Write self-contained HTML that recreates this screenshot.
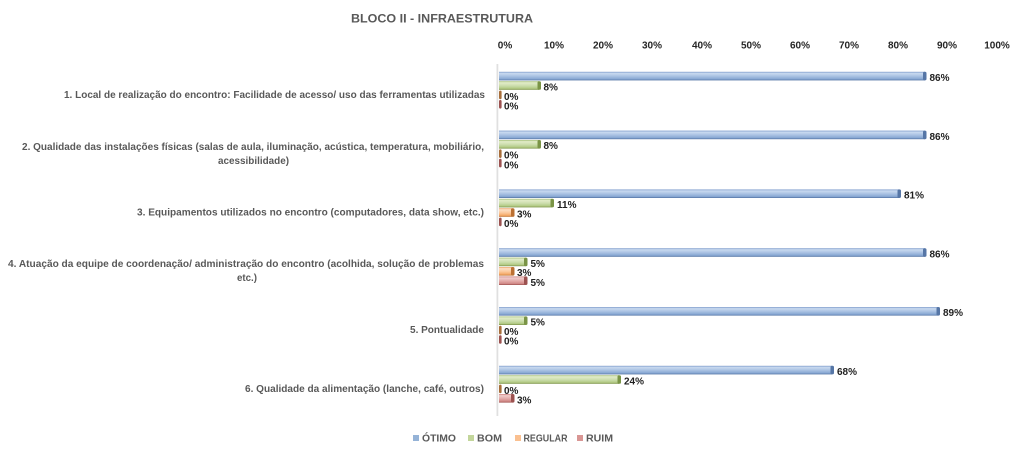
<!DOCTYPE html>
<html>
<head>
<meta charset="utf-8">
<style>
  html, body { margin: 0; padding: 0; background: #ffffff; }
  svg { display: block; }
  text { font-family: "Liberation Sans", Arial, sans-serif; font-weight: bold; }
</style>
</head>
<body>
<svg width="1024" height="455" viewBox="0 0 1024 455" xmlns="http://www.w3.org/2000/svg">
  <defs>
    <linearGradient id="gB" x1="0" y1="0" x2="0" y2="1">
      <stop offset="0" stop-color="#7f9ccb"/>
      <stop offset="0.18" stop-color="#c9daf0"/>
      <stop offset="0.55" stop-color="#a6bfe1"/>
      <stop offset="0.85" stop-color="#86a6d2"/>
      <stop offset="1" stop-color="#4f6f9f"/>
    </linearGradient>
    <linearGradient id="gG" x1="0" y1="0" x2="0" y2="1">
      <stop offset="0" stop-color="#a6bf7a"/>
      <stop offset="0.18" stop-color="#e2ecc9"/>
      <stop offset="0.55" stop-color="#cadcaa"/>
      <stop offset="0.85" stop-color="#b1c983"/>
      <stop offset="1" stop-color="#788f45"/>
    </linearGradient>
    <linearGradient id="gO" x1="0" y1="0" x2="0" y2="1">
      <stop offset="0" stop-color="#eea46a"/>
      <stop offset="0.18" stop-color="#fde0c6"/>
      <stop offset="0.55" stop-color="#fbc79a"/>
      <stop offset="0.85" stop-color="#f4a866"/>
      <stop offset="1" stop-color="#b86c2e"/>
    </linearGradient>
    <linearGradient id="gR" x1="0" y1="0" x2="0" y2="1">
      <stop offset="0" stop-color="#cc807e"/>
      <stop offset="0.18" stop-color="#f0cccb"/>
      <stop offset="0.55" stop-color="#e2a9a7"/>
      <stop offset="0.85" stop-color="#d08886"/>
      <stop offset="1" stop-color="#9a4e4b"/>
    </linearGradient>
  </defs>

  <!-- Title -->
  <text x="351" y="22.5" font-size="12" fill="#595959" textLength="182" lengthAdjust="spacingAndGlyphs">BLOCO II - INFRAESTRUTURA</text>

  <!-- Top axis tick labels -->
  <g font-size="10" fill="#262626" text-anchor="middle">
    <text x="505" y="48.5">0%</text>
    <text x="554" y="48.5">10%</text>
    <text x="603" y="48.5">20%</text>
    <text x="652" y="48.5">30%</text>
    <text x="702" y="48.5">40%</text>
    <text x="751" y="48.5">50%</text>
    <text x="800" y="48.5">60%</text>
    <text x="849" y="48.5">70%</text>
    <text x="898" y="48.5">80%</text>
    <text x="947" y="48.5">90%</text>
    <text x="997" y="48.5">100%</text>
  </g>

  <!-- Vertical category axis line -->
  <rect x="496.5" y="64" width="1.8" height="352" fill="#e0e0e0"/>

  <!-- Category labels -->
  <g font-size="10" fill="#595959">
    <text x="485" y="97.8" text-anchor="end" textLength="421" lengthAdjust="spacingAndGlyphs">1. Local de realização do encontro: Facilidade de acesso/ uso das ferramentas utilizadas</text>
    <text x="484" y="149.8" text-anchor="end" textLength="462" lengthAdjust="spacingAndGlyphs">2. Qualidade das instalações físicas (salas de aula, iluminação, acústica, temperatura, mobiliário,</text>
    <text x="253.5" y="163.8" text-anchor="middle" textLength="71" lengthAdjust="spacingAndGlyphs">acessibilidade)</text>
    <text x="484" y="215.5" text-anchor="end" textLength="347" lengthAdjust="spacingAndGlyphs">3. Equipamentos utilizados no encontro (computadores, data show, etc.)</text>
    <text x="484" y="266.8" text-anchor="end" textLength="476" lengthAdjust="spacingAndGlyphs">4. Atuação da equipe de coordenação/ administração do encontro (acolhida, solução de problemas</text>
    <text x="247" y="280.8" text-anchor="middle" textLength="20" lengthAdjust="spacingAndGlyphs">etc.)</text>
    <text x="484" y="332.8" text-anchor="end" textLength="74" lengthAdjust="spacingAndGlyphs">5. Pontualidade</text>
    <text x="484" y="391.8" text-anchor="end" textLength="239" lengthAdjust="spacingAndGlyphs">6. Qualidade da alimentação (lanche, café, outros)</text>
  </g>

  <!-- Bars -->
  <g id="bars">
    <!-- Category 1 -->
    <rect x="499" y="71.8" width="426" height="8.6" fill="url(#gB)"/>
    <rect x="923" y="71.8" width="3.5" height="8.6" rx="1.6" fill="#5676a6"/>
    <rect x="499" y="81.2" width="40" height="8.6" fill="url(#gG)"/>
    <rect x="537.5" y="81.2" width="3.5" height="8.6" rx="1.6" fill="#7a9446"/>
    <rect x="499" y="90.6" width="2.6" height="8.6" rx="1.2" fill="#a86e3a"/>
    <rect x="499" y="100" width="2.6" height="8.6" rx="1.2" fill="#9c5250"/>

    <!-- Category 2 -->
    <rect x="499" y="130.6" width="426" height="8.6" fill="url(#gB)"/>
    <rect x="923" y="130.6" width="3.5" height="8.6" rx="1.6" fill="#5676a6"/>
    <rect x="499" y="140" width="40" height="8.6" fill="url(#gG)"/>
    <rect x="537.5" y="140" width="3.5" height="8.6" rx="1.6" fill="#7a9446"/>
    <rect x="499" y="149.4" width="2.6" height="8.6" rx="1.2" fill="#a86e3a"/>
    <rect x="499" y="158.8" width="2.6" height="8.6" rx="1.2" fill="#9c5250"/>

    <!-- Category 3 -->
    <rect x="499" y="189.4" width="400" height="8.6" fill="url(#gB)"/>
    <rect x="897.5" y="189.4" width="3.5" height="8.6" rx="1.6" fill="#5676a6"/>
    <rect x="499" y="198.8" width="53" height="8.6" fill="url(#gG)"/>
    <rect x="550.5" y="198.8" width="3.5" height="8.6" rx="1.6" fill="#7a9446"/>
    <rect x="499" y="208.2" width="13.5" height="8.6" fill="url(#gO)"/>
    <rect x="511" y="208.2" width="3.5" height="8.6" rx="1.6" fill="#bb7032"/>
    <rect x="499" y="217.6" width="2.6" height="8.6" rx="1.2" fill="#9c5250"/>

    <!-- Category 4 -->
    <rect x="499" y="248.2" width="426" height="8.6" fill="url(#gB)"/>
    <rect x="923" y="248.2" width="3.5" height="8.6" rx="1.6" fill="#5676a6"/>
    <rect x="499" y="257.6" width="26.5" height="8.6" fill="url(#gG)"/>
    <rect x="524" y="257.6" width="3.5" height="8.6" rx="1.6" fill="#7a9446"/>
    <rect x="499" y="267" width="13.5" height="8.6" fill="url(#gO)"/>
    <rect x="511" y="267" width="3.5" height="8.6" rx="1.6" fill="#bb7032"/>
    <rect x="499" y="276.4" width="26.5" height="8.6" fill="url(#gR)"/>
    <rect x="524" y="276.4" width="3.5" height="8.6" rx="1.6" fill="#9c5250"/>

    <!-- Category 5 -->
    <rect x="499" y="307" width="439" height="8.6" fill="url(#gB)"/>
    <rect x="936.5" y="307" width="3.5" height="8.6" rx="1.6" fill="#5676a6"/>
    <rect x="499" y="316.4" width="26.5" height="8.6" fill="url(#gG)"/>
    <rect x="524" y="316.4" width="3.5" height="8.6" rx="1.6" fill="#7a9446"/>
    <rect x="499" y="325.8" width="2.6" height="8.6" rx="1.2" fill="#a86e3a"/>
    <rect x="499" y="335.2" width="2.6" height="8.6" rx="1.2" fill="#9c5250"/>

    <!-- Category 6 -->
    <rect x="499" y="365.8" width="333" height="8.6" fill="url(#gB)"/>
    <rect x="830.5" y="365.8" width="3.5" height="8.6" rx="1.6" fill="#5676a6"/>
    <rect x="499" y="375.2" width="120" height="8.6" fill="url(#gG)"/>
    <rect x="617.5" y="375.2" width="3.5" height="8.6" rx="1.6" fill="#7a9446"/>
    <rect x="499" y="384.6" width="2.6" height="8.6" rx="1.2" fill="#a86e3a"/>
    <rect x="499" y="394" width="13.5" height="8.6" fill="url(#gR)"/>
    <rect x="511" y="394" width="3.5" height="8.6" rx="1.6" fill="#9c5250"/>
  </g>

  <!-- Data labels -->
  <g font-size="10" fill="#1f1f1f">
    <text x="929.5" y="81">86%</text>
    <text x="543.5" y="90.4">8%</text>
    <text x="504" y="99.8">0%</text>
    <text x="504" y="109.6">0%</text>

    <text x="929.5" y="139.8">86%</text>
    <text x="543.5" y="149.2">8%</text>
    <text x="504" y="158.6">0%</text>
    <text x="504" y="168.4">0%</text>

    <text x="904" y="198.6">81%</text>
    <text x="557" y="208">11%</text>
    <text x="517" y="217.4">3%</text>
    <text x="504" y="227">0%</text>

    <text x="929.5" y="257.4">86%</text>
    <text x="530.5" y="266.8">5%</text>
    <text x="517" y="276.2">3%</text>
    <text x="530.5" y="285.8">5%</text>

    <text x="943" y="316.2">89%</text>
    <text x="530.5" y="325.6">5%</text>
    <text x="504" y="335">0%</text>
    <text x="504" y="344.6">0%</text>

    <text x="837" y="375">68%</text>
    <text x="624" y="384.4">24%</text>
    <text x="504" y="393.8">0%</text>
    <text x="517" y="403.4">3%</text>
  </g>

  <!-- Legend -->
  <g font-size="10" fill="#595959">
    <rect x="413" y="435" width="6" height="6" fill="#95b3d7"/>
    <text x="422" y="441.5" textLength="34" lengthAdjust="spacingAndGlyphs">ÓTIMO</text>
    <rect x="468" y="435" width="6" height="6" fill="#c3d69b"/>
    <text x="477" y="441.5" textLength="25" lengthAdjust="spacingAndGlyphs">BOM</text>
    <rect x="515" y="435" width="6" height="6" fill="#fac090"/>
    <text x="523.5" y="441.5" textLength="44" lengthAdjust="spacingAndGlyphs">REGULAR</text>
    <rect x="577" y="435" width="6" height="6" fill="#d99694"/>
    <text x="586" y="441.5" textLength="27" lengthAdjust="spacingAndGlyphs">RUIM</text>
  </g>
</svg>
</body>
</html>
